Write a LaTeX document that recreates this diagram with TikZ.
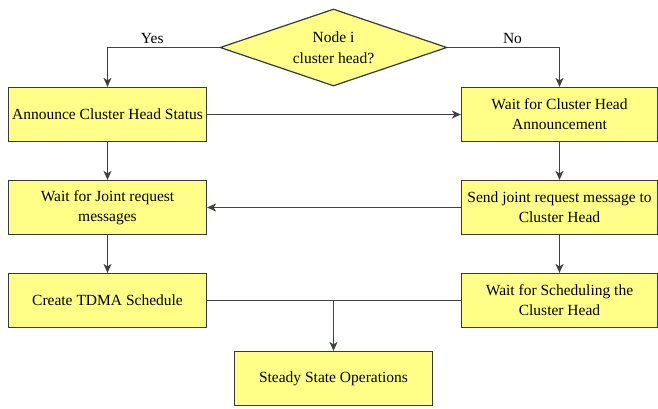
\documentclass[tikz,border=0pt]{standalone}
\usepackage{fontspec}
\setmainfont{Liberation Serif}
\usetikzlibrary{shapes.geometric,arrows.meta,positioning,calc}
\definecolor{boxfill}{HTML}{FFFF88}
\definecolor{boxline}{HTML}{36393D}
\definecolor{linecol}{HTML}{3F3F48}

\begin{document}
\begin{tikzpicture}[x=1pt,y=-1pt,
		box/.style={draw=boxline,fill=boxfill,line width=1.2pt,minimum width=198pt,minimum height=54pt,align=center,inner sep=1pt,font=\fontsize{15.5}{20}\selectfont},
		decision/.style={diamond,draw=boxline,fill=boxfill,line width=1.2pt,minimum width=227pt,minimum height=77pt,aspect=2.95,inner sep=0pt,align=center,font=\fontsize{15.5}{21}\selectfont},
		arr/.style={-{Stealth[length=9pt,width=8pt,inset=2.5pt]},draw=linecol,line width=1.2pt},
		plain/.style={draw=linecol,line width=1.2pt}]
		\useasboundingbox (0,0) rectangle (658,408);
		% decision
		\node[decision] (head) at (333.5,47.5) {Node i\\cluster head?};
		% left column
		\node[box] (announce) at (107.5,114.5) {Announce Cluster Head Status};
		\node[box] (waitjoin) at (107.5,207.5) {Wait for Joint request\\messages};
		\node[box] (tdma) at (107.5,300.5) {Create TDMA Schedule};
		% right column
		\node[box,minimum width=196pt] (waitann) at (559.5,114.5) {Wait for Cluster Head\\Announcement};
		\node[box,minimum width=196pt] (send) at (559.5,207.5) {Send joint request message to\\Cluster Head};
		\node[box,minimum width=196pt] (waitsch) at (559.5,300.5) {Wait for Scheduling the\\Cluster Head};
		% bottom
		\node[box] (steady) at (333.5,378.5) {Steady State Operations};
		
		\draw[arr] (head.west) -| node[pos=0.3,above,font=\fontsize{15.5}{20}\selectfont]{Yes} (announce.north);
		\draw[arr] (head.east) -| node[pos=0.29,above,font=\fontsize{15.5}{20}\selectfont]{No} (waitann.north);
		\draw[arr] (announce) -- (waitann);
		\draw[arr] (announce) -- (waitjoin);
		\draw[arr] (waitjoin) -- (tdma);
		\draw[arr] (waitann) -- (send);
		\draw[arr] (send) -- (waitjoin);
		\draw[arr] (send) -- (waitsch);
		\draw[plain] (tdma) -- (waitsch);
		\draw[arr] (tdma.east -| steady.north) -- (steady.north);
	\end{tikzpicture}
\end{document}
